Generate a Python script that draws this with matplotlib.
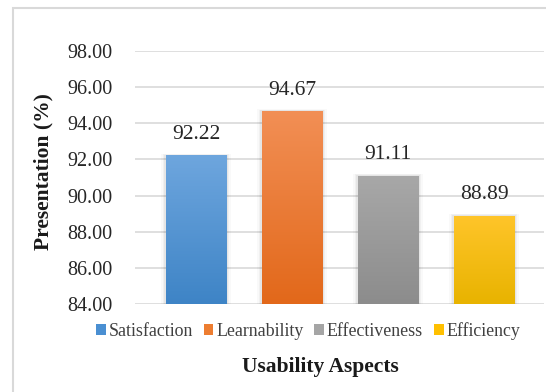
import matplotlib
matplotlib.use("Agg")
import matplotlib.pyplot as plt
import numpy as np
from matplotlib.patches import Rectangle
from matplotlib.colors import LinearSegmentedColormap

categories = ["Satisfaction", "Learnability", "Effectiveness", "Efficiency"]
values = [92.22, 94.67, 91.11, 88.89]
yticks = [84, 86, 88, 90, 92, 94, 96, 98]

top_colors = ["#6ea6de", "#f28f55", "#a8a8a8", "#ffc52a"]
bot_colors = ["#3e84c6", "#e2681a", "#8c8c8c", "#e8b300"]
legend_colors = ["#4a8fd2", "#ed7d31", "#a5a5a5", "#ffc000"]

W, H = 546, 392
fig = plt.figure(figsize=(W / 100, H / 100), dpi=100)
fig.patch.set_facecolor("white")

# outer chart border
fig.patches.append(Rectangle((13 / W, -0.1), 1.2, 1 - 8 / H + 0.1, transform=fig.transFigure,
                             fill=False, edgecolor="#d9d9d9", linewidth=1.5))

ax = fig.add_axes([135 / W, 1 - 304 / H, (544 - 135) / W, (304 - 51) / H])
ax.set_yticks(yticks)
ax.set_yticklabels([f"{v:.2f}" for v in yticks], fontfamily="Liberation Serif", fontsize=14.5, color="#262626")
ax.tick_params(axis="y", length=0, pad=16)
ax.set_xticks([])
for s in ax.spines.values():
    s.set_visible(False)
ax.grid(axis="y", color="#d9d9d9", linewidth=1.2)
ax.set_axisbelow(True)

width = 0.625
x = np.arange(len(categories))
handles = []
for i, (xi, v) in enumerate(zip(x, values)):
    # soft shadow
    for k, a in zip([0.05, 0.035, 0.02], [0.025, 0.035, 0.045]):
        ax.add_patch(Rectangle((xi - width / 2 - k, 84), width + 2 * k, v - 84 + k * 2,
                               facecolor="#000000", alpha=a, edgecolor="none", zorder=1.5))
    rect = Rectangle((xi - width / 2, 84), width, v - 84, facecolor=legend_colors[i],
                     edgecolor="none", zorder=2)
    ax.add_patch(rect)
    cmap = LinearSegmentedColormap.from_list("g%d" % i, [bot_colors[i], top_colors[i]])
    grad = np.linspace(0, 1, 256).reshape(-1, 1)
    im = ax.imshow(grad, extent=(xi - width / 2, xi + width / 2, 84, v), origin="lower",
                   aspect="auto", cmap=cmap, zorder=2.1)
    im.set_clip_path(rect)
    ax.text(xi, v + 1.15, f"{v:.2f}", ha="center", va="center", fontfamily="Liberation Serif",
            fontsize=15.5, color="#262626", zorder=3)
    handles.append(Rectangle((0, 0), 1, 1, facecolor=legend_colors[i], edgecolor="none"))

ax.set_aspect("auto")
ax.set_xlim(-0.635, 3.625)
ax.set_ylim(84, 98)

leg = fig.legend(handles, categories, loc="center", bbox_to_anchor=(308 / W, 1 - 331 / H),
                 ncol=4, frameon=False, prop={"family": "Liberation Serif", "size": 12.9},
                 handlelength=0.55, handleheight=0.55, handletextpad=0.15, columnspacing=0.6)
for t in leg.get_texts():
    t.set_color("#404040")

fig.text(320 / W, 1 - 367 / H, "Usability Aspects", ha="center", va="center",
         fontfamily="Liberation Serif", fontsize=15.5, fontweight="bold", color="#1a1a1a")
fig.text(43 / W, 1 - 172 / H, "Presentation (%)", ha="center", va="center", rotation=90,
         fontfamily="Liberation Serif", fontsize=15.5, fontweight="bold", color="#1a1a1a")

fig.savefig("out.png", dpi=100)
